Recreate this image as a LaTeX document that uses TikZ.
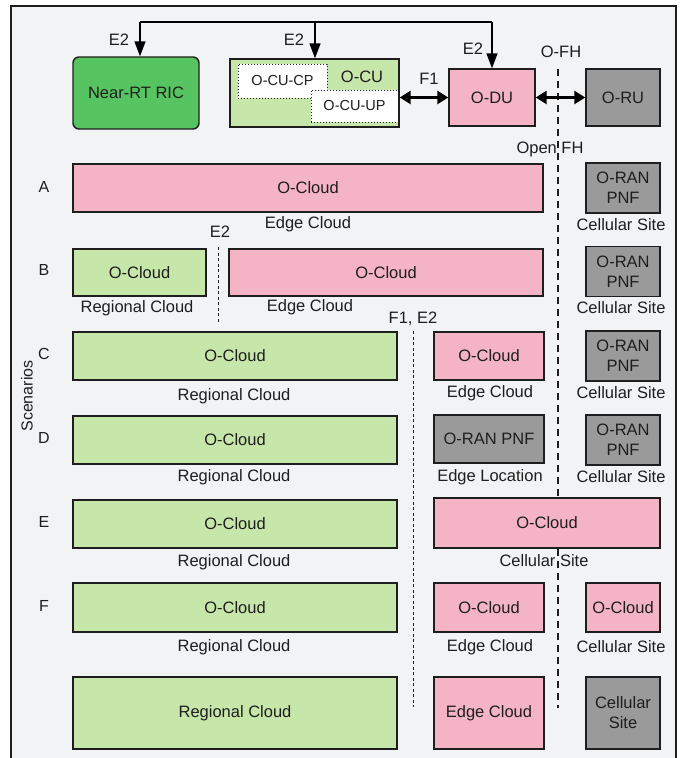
\documentclass[tikz,border=0pt]{standalone}
\usepackage{fontspec}
\setmainfont{Liberation Sans}
\usetikzlibrary{arrows.meta}
\definecolor{bgc}{RGB}{242,243,245}
\definecolor{pinkc}{RGB}{244,180,198}
\definecolor{lgreen}{RGB}{198,230,170}
\definecolor{dgreen}{RGB}{86,196,96}
\definecolor{grayc}{RGB}{154,154,154}
\definecolor{edgec}{RGB}{30,30,30}
\tikzset{
  box/.style={draw=edgec, line width=1.4pt, inner sep=1pt, align=center, text=edgec,
    font=\fontsize{16.5}{20}\selectfont},
  pinkbox/.style={box, fill=pinkc},
  greenbox/.style={box, fill=lgreen},
  graybox/.style={box, fill=grayc},
  subbox/.style={draw=edgec, line width=1pt, dotted, fill=white, inner sep=0pt,
    font=\fontsize{14.5}{17}\selectfont, text=edgec},
  lbl/.style={inner sep=0pt, text=edgec, font=\fontsize{16.5}{20}\selectfont},
  letter/.style={inner sep=0pt, text=edgec, font=\fontsize{16}{19}\selectfont},
  e2arrow/.style={line width=1.5pt, -{Triangle[length=15pt,width=11pt]}},
  dblarrow/.style={line width=2.6pt, {Triangle[length=11pt,width=13pt]}-{Triangle[length=11pt,width=13pt]}},
  fhline/.style={line width=1.8pt, dash pattern=on 7pt off 5pt, draw=edgec},
  splitline/.style={line width=0.9pt, dash pattern=on 3pt off 2.5pt, draw=edgec}
}
\begin{document}
\begin{tikzpicture}[x=1pt,y=-1pt]
\useasboundingbox (0,0) rectangle (680,758);
\fill[white] (0,0) rectangle (680,758);
\draw[draw=edgec, line width=1.5pt, fill=bgc] (11,6) rectangle (676,775);

% split lines
\coordinate (fhtop) at (558,69);
\coordinate (fhbot) at (558,708);
\draw[fhline] (fhtop) -- (fhbot);
\coordinate (e2st) at (218,247);
\coordinate (e2sb) at (218,322);
\draw[splitline] (e2st) -- (e2sb);
\coordinate (f1st) at (413,331);
\coordinate (f1sb) at (413,707);
\draw[splitline] (f1st) -- (f1sb);

% top row
\node[box, fill=dgreen, rounded corners=6pt, minimum width=126pt, minimum height=72pt] (ric) at (136,93) {Near-RT RIC};
\node[greenbox, minimum width=169pt, minimum height=68pt] (ocu) at (314.5,93) {};
\node[lbl] (ocul) at (362,77) {O-CU};
\node[subbox, minimum width=89pt, minimum height=34pt] (cp) at (282.5,81) {O-CU-CP};
\node[subbox, minimum width=87pt, minimum height=32pt] (up) at (354.5,106) {\raisebox{-1.5pt}{O-CU-UP}};
\node[pinkbox, minimum width=86pt, minimum height=57pt] (odu) at (492,97.5) {O-DU};
\node[graybox, minimum width=74pt, minimum height=57pt] (oru) at (623,97.5) {O-RU};

% E2 arrows
\coordinate (e2l) at (140,22);
\coordinate (e2m) at (315,22);
\coordinate (e2r) at (492,22);
\draw[line width=1.5pt] (e2l) -- (e2r);
\draw[e2arrow] (e2l) -- (e2l |- ric.north);
\draw[e2arrow] (e2m) -- (e2m |- ocu.north);
\draw[e2arrow] (e2r) -- (odu.north);
\node[lbl] (e2a) at (119,40) {E2};
\node[lbl] (e2b) at (294,40) {E2};
\node[lbl] (e2c) at (473,49) {E2};
\draw[dblarrow] (ocu.east |- odu.west) -- (odu.west);
\node[lbl] (f1l) at (429,79) {F1};
\draw[dblarrow] (odu.east) -- (oru.west);
\node[lbl] (ofh) at (561,52) {O-FH};
\node[lbl] (openfh) at (550,149) {Open FH};

% row letters
\node[letter] (la) at (44,187) {A};
\node[letter] (lb) at (44,270) {B};
\node[letter] (lc) at (44,354) {C};
\node[letter] (ld) at (44,438) {D};
\node[letter] (le) at (44,522) {E};
\node[letter] (lf) at (44,606) {F};
\node[letter, rotate=90] (scen) at (27,396) {Scenarios};

% Row A
\node[pinkbox, minimum width=470pt, minimum height=48pt] (a1) at (308,188) {O-Cloud};
\node[lbl] (a1l) at (308,224) {Edge Cloud};
\node[graybox, minimum width=74pt, minimum height=50pt] (a2) at (623,188) {O-RAN\\PNF};
\node[lbl] (a2l) at (621,225) {Cellular Site};

% Row B
\node[lbl] (e2s) at (220,232) {E2};
\node[greenbox, minimum width=133pt, minimum height=47pt] (b1) at (139.5,272.5) {O-Cloud};
\node[lbl] (b1l) at (137,308) {Regional Cloud};
\node[pinkbox, minimum width=314pt, minimum height=47pt] (b2) at (386,272.5) {O-Cloud};
\node[lbl] (b2l) at (310,307) {Edge Cloud};
\node[graybox, minimum width=74pt, minimum height=50pt] (b3) at (623,271.5) {O-RAN\\PNF};
\node[lbl] (b3l) at (621,308) {Cellular Site};

% Row C
\node[lbl] (f1e2) at (413,319) {F1, E2};
\node[greenbox, minimum width=324pt, minimum height=48pt] (c1) at (235,356) {O-Cloud};
\node[lbl] (c1l) at (234,396) {Regional Cloud};
\node[pinkbox, minimum width=110pt, minimum height=48pt] (c2) at (489,356) {O-Cloud};
\node[lbl] (c2l) at (490,393) {Edge Cloud};
\node[graybox, minimum width=74pt, minimum height=50pt] (c3) at (623,356) {O-RAN\\PNF};
\node[lbl] (c3l) at (621,393) {Cellular Site};

% Row D
\node[greenbox, minimum width=324pt, minimum height=48pt] (d1) at (235,440) {O-Cloud};
\node[lbl] (d1l) at (234,477) {Regional Cloud};
\node[graybox, minimum width=110pt, minimum height=48pt] (d2) at (489,439) {O-RAN PNF};
\node[lbl] (d2l) at (490,477) {Edge Location};
\node[graybox, minimum width=74pt, minimum height=50pt] (d3) at (623,440) {O-RAN\\PNF};
\node[lbl] (d3l) at (621,477) {Cellular Site};

% Row E
\node[greenbox, minimum width=324pt, minimum height=48pt] (e1) at (235,524) {O-Cloud};
\node[lbl] (e1l) at (234,562) {Regional Cloud};
\node[pinkbox, minimum width=226pt, minimum height=50pt] (e2box) at (547,523) {O-Cloud};
\node[lbl] (e2boxl) at (544,561) {Cellular Site};

% Row F
\node[greenbox, minimum width=324pt, minimum height=49pt] (f1) at (235,607.5) {O-Cloud};
\node[lbl] (f1bl) at (234,647) {Regional Cloud};
\node[pinkbox, minimum width=110pt, minimum height=49pt] (f2) at (489,607.5) {O-Cloud};
\node[lbl] (f2l) at (490,647) {Edge Cloud};
\node[pinkbox, minimum width=74pt, minimum height=49pt] (f3) at (623,607.5) {O-Cloud};
\node[lbl] (f3l) at (621,647) {Cellular Site};

% Last row
\node[greenbox, minimum width=324pt, minimum height=72pt] (g1) at (235,713) {Regional Cloud};
\node[pinkbox, minimum width=110pt, minimum height=72pt] (g2) at (489,713) {Edge Cloud};
\node[graybox, minimum width=74pt, minimum height=72pt] (g3) at (623,713) {Cellular\\Site};
\end{tikzpicture}
\end{document}
